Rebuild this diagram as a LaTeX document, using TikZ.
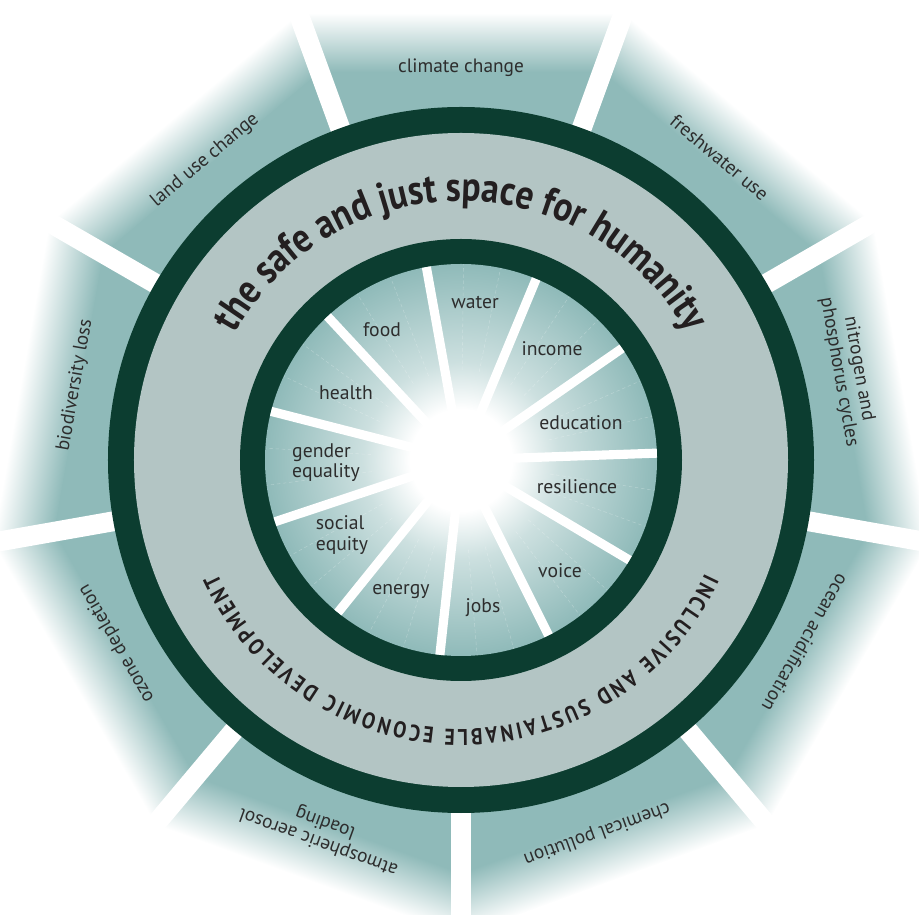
\documentclass[tikz,border=0pt]{standalone}
\usepackage{fontspec}
\setmainfont{PT Sans}
\newfontfamily\titlefont{PT Sans}[FakeStretch=0.86]
\usetikzlibrary{decorations.text}

\definecolor{segteal}{RGB}{143,186,185}
\definecolor{bandgray}{RGB}{179,197,196}
\definecolor{ringgreen}{RGB}{12,61,48}
\definecolor{labgray}{RGB}{45,45,45}
\definecolor{titleink}{RGB}{35,31,32}
\colorlet{glowmid}{segteal!45!white}

\pgfdeclareradialshading{innerglow}{\pgfpointorigin}{color(0bp)=(white); color(6.5bp)=(white); color(12.5bp)=(glowmid); color(25bp)=(segteal); color(50bp)=(segteal)}

\tikzset{
  outerlab/.style={text=labgray, font=\fontsize{11}{11.5}\selectfont, align=center},
  innerlab/.style={text=labgray, font=\fontsize{11.2}{11.5}\selectfont, align=left},
  outergap/.style={draw=white, line width=11.3pt},
  innergap/.style={draw=white, line width=5.2pt},
  subline/.style={draw=white, opacity=0.25, line width=0.3pt, dash pattern=on 2pt off 1.5pt},
}

\begin{document}
\begin{tikzpicture}[x=0.02cm, y=0.02cm]
\useasboundingbox (-461,-455) rectangle (458,460);

% planetary boundaries
\foreach \ang in {90,50,...,-230} {
  \begin{scope}[transform canvas={rotate=\ang-90}]
    \clip (0,0) -- (110:600) -- (70:600) -- cycle;
    \fill[segteal] (-250,0) rectangle (250,390);
    \shade[bottom color=segteal, top color=white] (-250,388) rectangle (250,447);
  \end{scope}
}
\foreach \g in {110,70,...,-210}
  \draw[outergap] (\g:330) -- (\g:520);

\fill[ringgreen] (0,0) circle[radius=353];
\fill[bandgray] (0,0) circle[radius=327];
\fill[ringgreen] (0,0) circle[radius=221];
\shade[shading=innerglow] (0,0) circle[radius=196];

% social foundation
\foreach \k in {0,...,10} {
  \draw[subline] ({12.9+32.727*\k}:90) -- ({12.9+32.727*\k}:196);
  \draw[subline] ({23.8+32.727*\k}:90) -- ({23.8+32.727*\k}:196);
  \draw[innergap] ({2+32.727*\k}:45) -- ({2+32.727*\k}:196);
}

\path[decorate, decoration={text along path, text align=center, text color=titleink,
  text={|\titlefont\fontsize{23.5}{24}\selectfont\bfseries|the safe and just space for humanity}}]
  (170:259) arc[start angle=170, end angle=10, radius=259];
\path[decorate, decoration={text along path, text align=fit to path, text color=titleink,
  text={|\titlefont\fontsize{13}{13}\selectfont\bfseries|INCLUSIVE AND SUSTAINABLE ECONOMIC DEVELOPMENT}}]
  (-25:269) arc[start angle=-25, end angle=-155, radius=269];

\node[innerlab] (water) at (14,157) {water};
\node[innerlab] (income) at (91,111) {income};
\node[innerlab] (education) at (120,37) {education};
\node[innerlab] (resilience) at (116,-27) {resilience};
\node[innerlab] (voice) at (99,-111) {voice};
\node[innerlab] (jobs) at (22,-148) {jobs};
\node[innerlab] (energy) at (-60,-132) {energy};
\node[innerlab] (socialequity) at (-119,-75) {social\\equity};
\node[innerlab] (genderequality) at (-135,-3) {gender\\equality};
\node[innerlab] (health) at (-115,67) {health};
\node[innerlab] (food) at (-79,130) {food};

\node[outerlab] (climate) at (90:392) {climate change};
\node[outerlab, rotate=-40] (freshwater) at (49.5:398) {freshwater use};
\node[outerlab, rotate=-80] (nitrogen) at (13:398) {nitrogen and\\phosphorus cycles};
\node[outerlab, rotate=-120] (ocean) at (-28:390) {ocean acidification};
\node[outerlab, rotate=-160] (chemical) at (-70:397) {chemical pollution};
\node[outerlab, rotate=160] (aerosol) at (-110.5:397) {atmospheric aerosol\\loading};
\node[outerlab, rotate=120] (ozone) at (-152:390) {ozone depletion};
\node[outerlab, rotate=80] (biodiversity) at (169:393) {biodiversity loss};
\node[outerlab, rotate=40] (landuse) at (130.5:394) {land use change};
\end{tikzpicture}
\end{document}
